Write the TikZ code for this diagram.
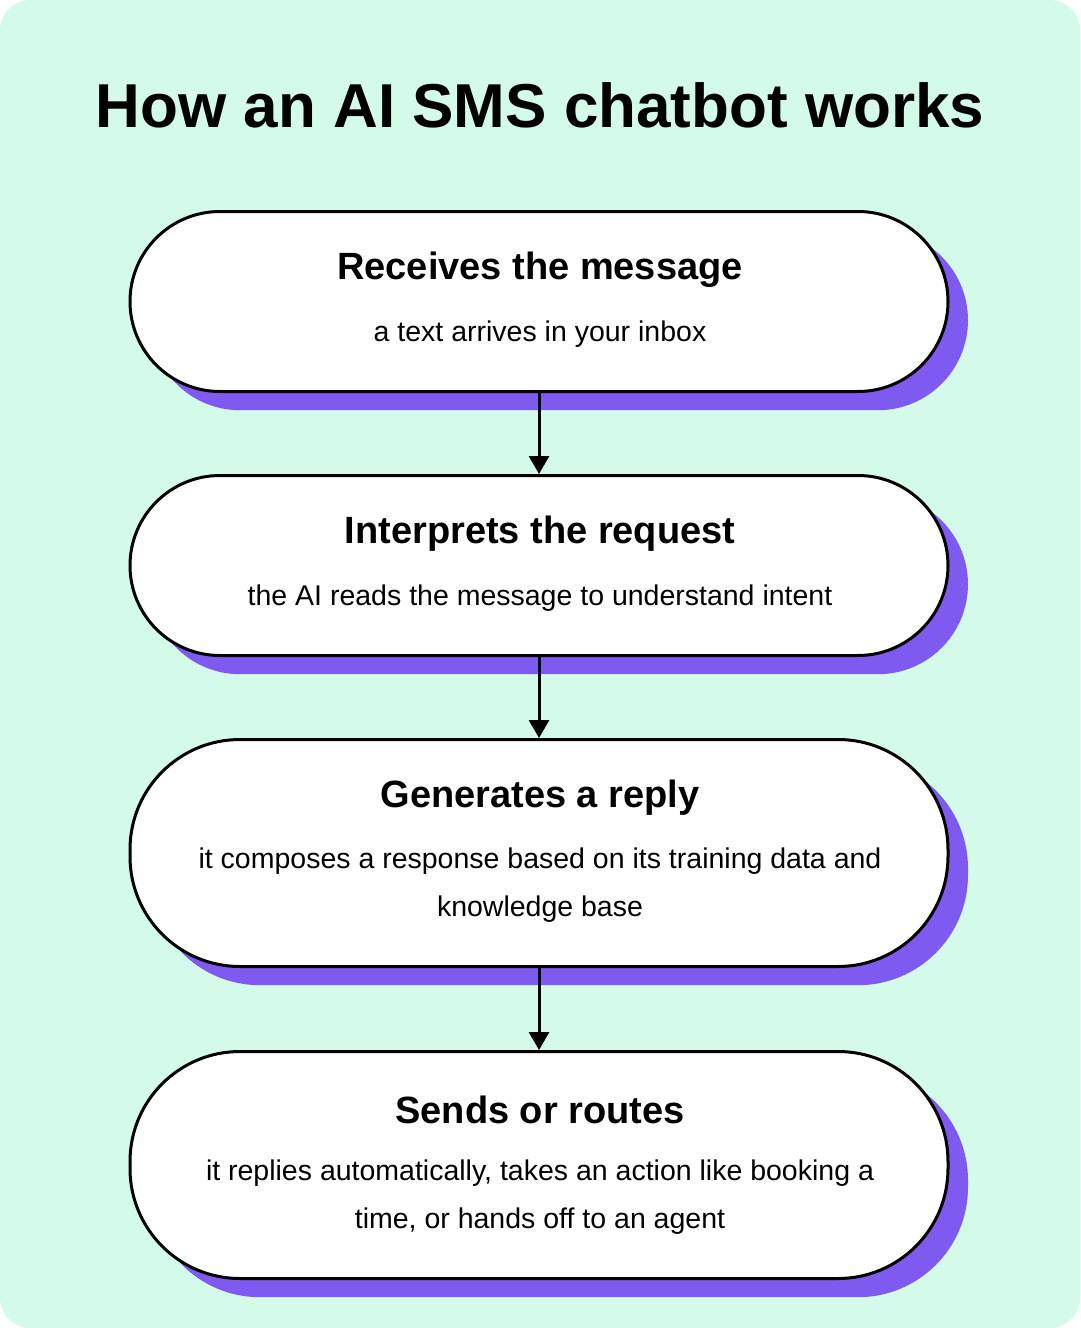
\documentclass[tikz,border=0pt]{standalone}
\usepackage{fontspec}
\setmainfont{Liberation Sans}
\usetikzlibrary{arrows.meta}
\begin{document}
\begin{tikzpicture}[x=1pt,y=-1pt,
  box/.style={draw=black,line width=3pt,fill=white,rounded corners=#1,minimum width=818pt,anchor=north,inner sep=0pt},
  shadow/.style={fill=shc,rounded corners=#1,minimum width=818pt,anchor=north,inner sep=0pt},
  ttl/.style={font=\fontsize{38}{44}\selectfont\bfseries},
  sub/.style={font=\fontsize{28.5}{48}\selectfont,align=center},
  arr/.style={line width=3pt,-{Triangle[length=18pt,width=20pt]}}]
\definecolor{bg}{HTML}{D4FBEA}
\definecolor{shc}{HTML}{7F5AF0}
\useasboundingbox (0,0) rectangle (1080,1328);
\fill[bg,rounded corners=30pt] (0,0) rectangle (1080,1328);
\node[font=\fontsize{62}{70}\selectfont\bfseries] (title) at (540,105) {How an AI SMS chatbot works};
% shadows
\node[shadow=90pt,minimum height=180pt] at (559,230) {};
\node[shadow=90pt,minimum height=180pt] at (559,494) {};
\node[shadow=110pt,minimum height=227pt] at (559,758) {};
\node[shadow=110pt,minimum height=227pt] at (559,1070) {};
% boxes
\node[box=90pt,minimum height=180pt] (b1) at (539,210) {};
\node[box=90pt,minimum height=180pt] (b2) at (539,474) {};
\node[box=110pt,minimum height=227pt] (b3) at (539,738) {};
\node[box=110pt,minimum height=227pt] (b4) at (539,1050) {};
% texts
\node[ttl] (t1) at (540,270) {Receives the message};
\node[sub] (s1) at (540,334) {a text arrives in your inbox};
\node[ttl] (t2) at (540,534) {Interprets the request};
\node[sub] (s2) at (540,598) {the AI reads the message to understand intent};
\node[ttl] (t3) at (540,798) {Generates a reply};
\node[sub] (s3) at (540,885) {it composes a response based on its training data and\\knowledge base};
\node[ttl] (t4) at (540,1110) {Sends or routes};
\node[sub] (s4) at (540,1197) {it replies automatically, takes an action like booking a\\time, or hands off to an agent};
% arrows
\draw[arr] (b1.south) -- (b2.north);
\draw[arr] (b2.south) -- (b3.north);
\draw[arr] (b3.south) -- (b4.north);
\end{tikzpicture}
\end{document}
